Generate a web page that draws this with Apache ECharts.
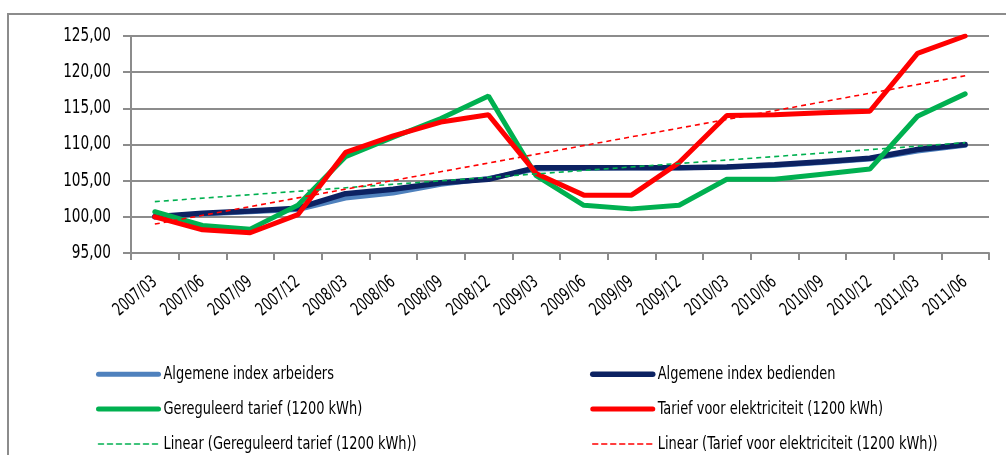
<!DOCTYPE html>
<html>
<head>
<meta charset="utf-8">
<script src="https://cdn.jsdelivr.net/npm/echarts@6/dist/echarts.min.js"></script>
<style>
html,body{margin:0;padding:0;background:#fff;}
#c{width:1006px;height:455px;}
</style>
</head>
<body>
<div id="c"></div>
<script>
const categories = ['2007/03','2007/06','2007/09','2007/12','2008/03','2008/06','2008/09','2008/12','2009/03','2009/06','2009/09','2009/12','2010/03','2010/06','2010/09','2010/12','2011/03','2011/06'];
const arbeiders = [100.0,100.4,100.7,101.0,102.6,103.3,104.5,105.3,106.6,106.7,106.8,106.8,106.9,107.1,107.5,108.0,109.1,109.9];
const bedienden = [100.0,100.5,100.8,101.2,103.2,103.8,104.7,105.2,106.8,106.8,106.8,106.8,106.9,107.2,107.6,108.1,109.3,110.0];
const gereguleerd = [100.7,98.8,98.3,101.6,108.3,111.0,113.6,116.7,105.7,101.6,101.1,101.6,105.2,105.2,105.9,106.6,113.9,117.0];
const elektriciteit = [100.0,98.2,97.8,100.3,108.9,111.2,113.1,114.1,106.0,103.0,103.0,107.5,114.0,114.1,114.4,114.6,122.6,125.0];
// trend line end values (first and last category)
const trendGereguleerd = [102.1,110.25];
const trendElektriciteit = [99.0,119.5];
const yTicks = [95,100,105,110,115,120,125];

const names = ['Algemene index arbeiders','Algemene index bedienden','Gereguleerd tarief (1200 kWh)','Tarief voor elektriciteit (1200 kWh)','Linear (Gereguleerd tarief (1200 kWh))','Linear (Tarief voor elektriciteit (1200 kWh))'];
const FONT = "'DejaVu Sans Condensed'";

// narrow the condensed face horizontally to imitate the narrow font of the original
(function(){
  const P = CanvasRenderingContext2D.prototype;
  const of = P.fillText, om = P.measureText;
  const sx = c => {
    const f = c.font || '';
    if (f.indexOf('Condensed') < 0) return 1;
    return f.indexOf('18.1px') >= 0 ? 0.75 : 0.8;
  };
  P.fillText = function(t, x, y, mw){
    const s = sx(this);
    if (s !== 1) { this.save(); this.translate(x, y); this.scale(s, 1); of.call(this, t, 0, 0); this.restore(); return; }
    return of.apply(this, arguments);
  };
  P.measureText = function(t){
    const m = om.call(this, t);
    const s = sx(this);
    if (s !== 1) {
      return {width:m.width*s, actualBoundingBoxAscent:m.actualBoundingBoxAscent, actualBoundingBoxDescent:m.actualBoundingBoxDescent,
        actualBoundingBoxLeft:m.actualBoundingBoxLeft*s, actualBoundingBoxRight:m.actualBoundingBoxRight*s,
        fontBoundingBoxAscent:m.fontBoundingBoxAscent, fontBoundingBoxDescent:m.fontBoundingBoxDescent};
    }
    return m;
  };
})();

const last = categories.length - 1;
const legendCommon = {orient:'vertical',top:367,padding:0,itemWidth:60,itemHeight:14,itemGap:20.5,
  itemStyle:{opacity:0},lineStyle:{width:'inherit',cap:'round'},
  textStyle:{fontFamily:FONT,fontSize:18,color:'#000'}};

const chart = echarts.init(document.getElementById('c'), null, {renderer:'canvas'});
chart.setOption({
  animation:false,
  backgroundColor:'#fff',
  textStyle:{fontFamily:FONT},
  graphic:[{type:'rect',shape:{x:8,y:14,width:1010,height:460},style:{fill:'none',stroke:'#8c8c8c',lineWidth:2},silent:true}],
  grid:{left:131,right:17,top:36,bottom:202,containLabel:false},
  legend:[
    Object.assign({data:[names[0],names[2],names[4]],left:96,itemTextGap:6}, legendCommon),
    Object.assign({data:[names[1],names[3],names[5]],left:590,itemTextGap:7}, legendCommon)
  ],
  xAxis:{type:'category',data:categories,boundaryGap:true,
    axisLine:{lineStyle:{color:'#8c8c8c',width:2}},
    axisTick:{show:true,length:7,lineStyle:{color:'#8c8c8c',width:2}},
    axisLabel:{interval:0,rotate:40,fontFamily:FONT,fontSize:18.1,color:'#000',margin:27},
    splitLine:{show:false}},
  yAxis:{type:'value',min:yTicks[0],max:yTicks[yTicks.length-1],interval:5,
    axisLine:{show:true,lineStyle:{color:'#8c8c8c',width:2}},
    axisTick:{show:true,length:8,lineStyle:{color:'#8c8c8c',width:2}},
    axisLabel:{fontFamily:FONT,fontSize:19,color:'#000',margin:20,formatter:v=>v.toFixed(2).replace('.',',')},
    splitLine:{show:true,lineStyle:{color:'#8c8c8c',width:2}}},
  series:[
    {name:names[0],type:'line',data:arbeiders,symbol:'none',lineStyle:{color:'#4f81bd',width:5,cap:'round'},itemStyle:{color:'#4f81bd'}},
    {name:names[1],type:'line',data:bedienden,symbol:'none',lineStyle:{color:'#0c2262',width:5.5,cap:'round'},itemStyle:{color:'#0c2262'}},
    {name:names[2],type:'line',data:gereguleerd,symbol:'none',lineStyle:{color:'#00b050',width:5,cap:'round'},itemStyle:{color:'#00b050'}},
    {name:names[3],type:'line',data:elektriciteit,symbol:'none',lineStyle:{color:'#ff0000',width:5,cap:'round'},itemStyle:{color:'#ff0000'}},
    {name:names[4],type:'line',data:[[categories[0],trendGereguleerd[0]],[categories[last],trendGereguleerd[1]]],symbol:'none',
      lineStyle:{color:'#00b050',width:1.6,type:[5,4]},itemStyle:{color:'#00b050'}},
    {name:names[5],type:'line',data:[[categories[0],trendElektriciteit[0]],[categories[last],trendElektriciteit[1]]],symbol:'none',
      lineStyle:{color:'#ff0000',width:1.6,type:[5,4]},itemStyle:{color:'#ff0000'}}
  ]
});
</script>
</body>
</html>
